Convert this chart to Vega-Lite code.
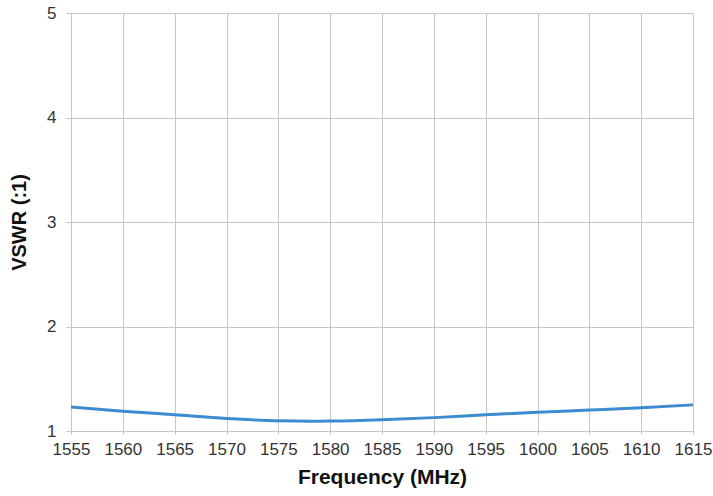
{
  "$schema": "https://vega.github.io/schema/vega-lite/v6.json",
  "autosize": "none",
  "width": 622,
  "height": 418,
  "padding": {"left": 71, "top": 13, "right": 20, "bottom": 65},
  "background": "white",
  "config": {
    "view": {"stroke": null},
    "font": "Liberation Sans"
  },
  "data": {
    "values": [
      {"freq": 1555, "vswr": 1.23},
      {"freq": 1560, "vswr": 1.19},
      {"freq": 1565, "vswr": 1.155},
      {"freq": 1570, "vswr": 1.12},
      {"freq": 1575, "vswr": 1.097},
      {"freq": 1578, "vswr": 1.093},
      {"freq": 1580, "vswr": 1.095},
      {"freq": 1585, "vswr": 1.108},
      {"freq": 1590, "vswr": 1.128},
      {"freq": 1595, "vswr": 1.155},
      {"freq": 1600, "vswr": 1.18},
      {"freq": 1605, "vswr": 1.2},
      {"freq": 1610, "vswr": 1.222},
      {"freq": 1615, "vswr": 1.25}
    ]
  },
  "mark": {"type": "line", "color": "#3d8bd0", "strokeWidth": 3, "interpolate": "monotone"},
  "encoding": {
    "x": {
      "field": "freq",
      "type": "quantitative",
      "scale": {"domain": [1555, 1615], "nice": false, "zero": false},
      "axis": {
        "title": "Frequency (MHz)",
        "values": [1555,1560,1565,1570,1575,1580,1585,1590,1595,1600,1605,1610,1615],
        "format": "d",
        "grid": true,
        "gridColor": "#c6c6c6",
        "gridWidth": 1,
        "domain": false,
        "tickColor": "#c6c6c6",
        "tickSize": 3,
        "labelFont": "Liberation Sans",
        "labelFontSize": 17,
        "labelColor": "#333333",
        "labelPadding": 7,
        "labelFlush": false,
        "titleFont": "Liberation Sans",
        "titleFontSize": 21,
        "titleFontWeight": "bold",
        "titleColor": "#111111",
        "titlePadding": 9
      }
    },
    "y": {
      "field": "vswr",
      "type": "quantitative",
      "scale": {"domain": [1, 5], "nice": false, "zero": false},
      "axis": {
        "title": "VSWR (:1)",
        "values": [1, 2, 3, 4, 5],
        "grid": true,
        "gridColor": "#c6c6c6",
        "gridWidth": 1,
        "domain": false,
        "tickColor": "#c6c6c6",
        "tickSize": 5,
        "labelFont": "Liberation Sans",
        "labelFontSize": 17,
        "labelColor": "#333333",
        "labelPadding": 10,
        "labelFlush": false,
        "titleFont": "Liberation Sans",
        "titleFontSize": 20,
        "titleFontWeight": "bold",
        "titleColor": "#111111",
        "titlePadding": 17
      }
    }
  }
}
